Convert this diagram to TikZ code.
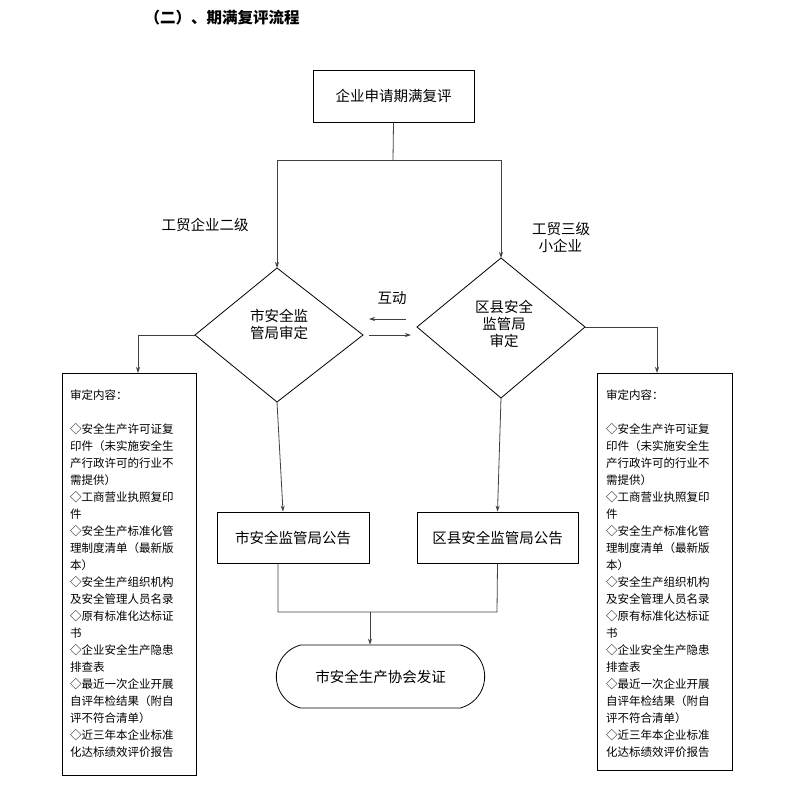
\documentclass[tikz,border=0pt]{standalone}
\usepackage{fontspec}
\setmainfont{Noto Sans CJK SC}
\usetikzlibrary{shapes.geometric,shapes.misc,arrows.meta}
\begin{document}
\begin{tikzpicture}[x=1pt,y=-1pt,
  ln/.style={draw=black!75,line width=0.8pt},
  ar/.style={ln,-{Stealth[length=6pt,width=4pt]}},
  bx/.style={draw,line width=0.8pt,inner sep=0pt},
  lbl/.style={font=\fontsize{14.5}{17}\selectfont,align=center},
  lst/.style={font=\fontsize{11.5}{17}\selectfont,align=left,anchor=north west,inner sep=0pt}]
\useasboundingbox (0,0) rectangle (792,787);
\node[font=\bfseries\fontsize{15.5}{17}\selectfont] (title) at (222,18) {（二）、期满复评流程};
\node[bx,minimum width=161pt,minimum height=52pt,lbl] (top) at (393.5,96) {企业申请期满复评};
\draw[bx,fill=white] (277,268)--(363,335)--(277,402)--(195,335)--cycle;
\draw[bx,fill=white] (501,258)--(585,327)--(501,398)--(417,327)--cycle;
\node[lbl] (d1) at (279,324) {市安全监\\管局审定};
\node[lbl] (d2) at (504,324) {区县安全\\监管局\\审定};
\coordinate (d1t) at (277,268); \coordinate (d1l) at (195,335); \coordinate (d1b) at (277,402);
\coordinate (d2t) at (501,258); \coordinate (d2r) at (585,327); \coordinate (d2b) at (501,398);
\coordinate (s) at (393,160);
\draw[ln] (top.south)--(s);
\draw[ar] (s)-|(d1t);
\draw[ar] (s)-|(d2t);
\node[lbl] (l1) at (205,225) {工贸企业二级};
\node[lbl,align=left] (l2) at (561,237) {工贸三级\\\ \ 小企业};
\node[lbl] (hd) at (392,298) {互动};
\coordinate (a1) at (406,319); \coordinate (a2) at (369,319);
\coordinate (b1) at (369,335); \coordinate (b2) at (411,335);
\draw[ar] (a1)--(a2);
\draw[ar] (b1)--(b2);
\node[bx,minimum width=134pt,minimum height=402pt,anchor=north west] (lb) at (62,373) {};
\node[bx,minimum width=135pt,minimum height=397pt,anchor=north west] (rb) at (597,373) {};
\draw[ar] (d1l)-|(lb.north -| 138,0);
\draw[ar] (d2r)-|(rb.north -| 657,0);
\foreach \n/\x in {lt/70,rt/606}{
\node[lst] (\n) at (\x,390) {审定内容：\\[17pt]
◇安全生产许可证复\\印件（未实施安全生\\产行政许可的行业不\\需提供）\\
◇工商营业执照复印\\件\\
◇安全生产标准化管\\理制度清单（最新版\\本）\\
◇安全生产组织机构\\及安全管理人员名录\\
◇原有标准化达标证\\书\\
◇企业安全生产隐患\\排查表\\
◇最近一次企业开展\\自评年检结果（附自\\评不符合清单）\\
◇近三年本企业标准\\化达标绩效评价报告};}
\node[bx,minimum width=152pt,minimum height=51pt,lbl] (g1) at (293,537.5) {市安全监管局公告};
\node[bx,minimum width=161pt,minimum height=51pt,lbl] (g2) at (497.5,537.5) {区县安全监管局公告};
\draw[ar] (d1b)--(g1.north -| 283,0);
\draw[ar] (d2b)--(g2.north);
\node[draw,line width=0.8pt,rounded rectangle,rounded rectangle arc length=150,minimum width=215pt,minimum height=63pt,lbl] (fz) at (380.5,676.5) {市安全生产协会发证};
\coordinate (m) at (370,612);
\draw[ln] (g1.south -| 278,0)--(278,612)--(497,612)--(g2.south);
\draw[ar] (m)--(fz.north -| m);
\end{tikzpicture}
\end{document}
